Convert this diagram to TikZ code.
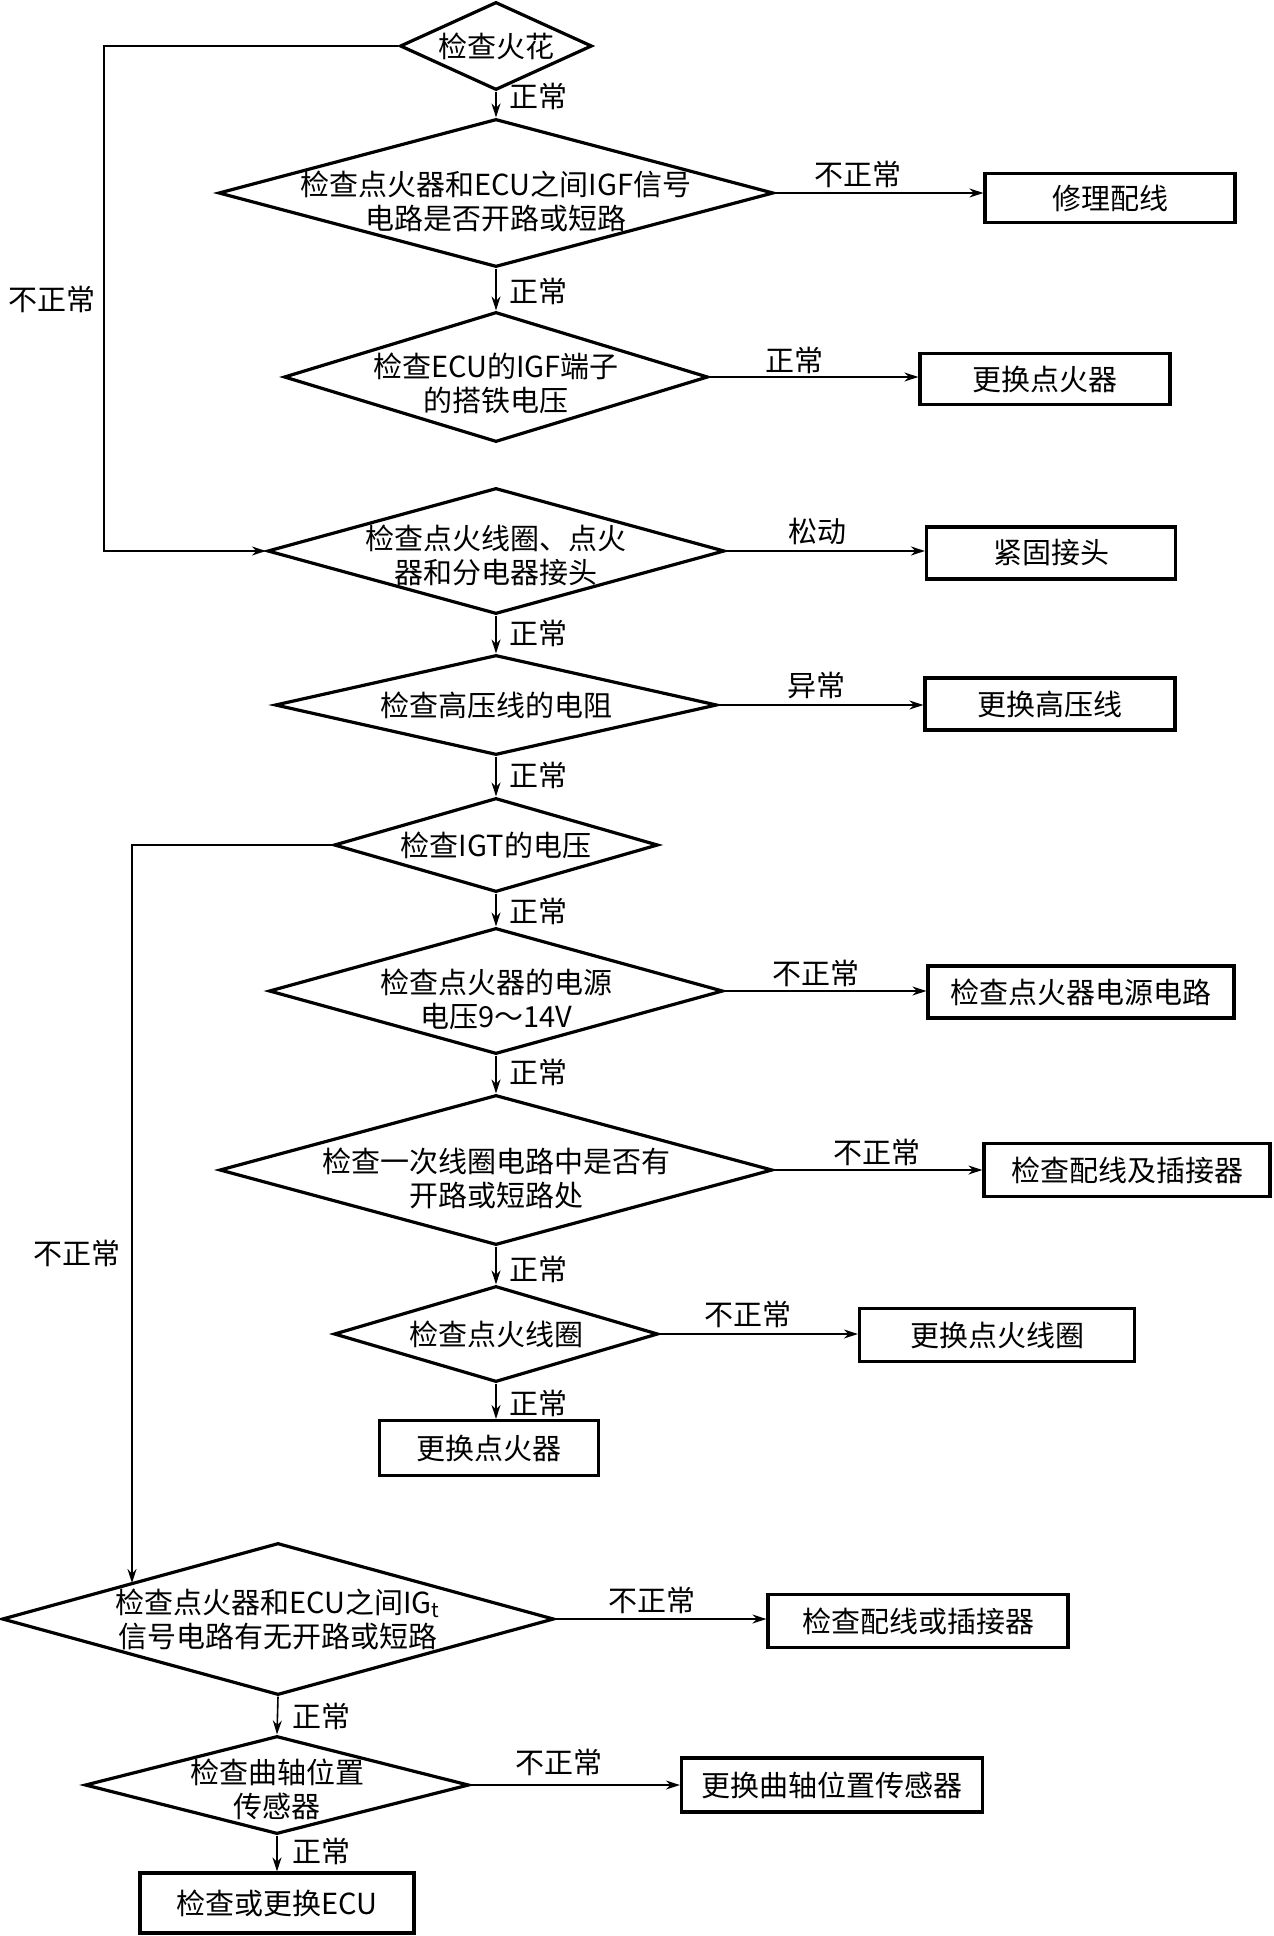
\documentclass[tikz,border=0pt]{standalone}
\usepackage{fontspec}
\newfontfamily\cjk{Noto Sans CJK SC}
\usetikzlibrary{shapes.geometric,arrows.meta}
\begin{document}
\begin{tikzpicture}[x=0.5pt,y=-0.5pt,
  every node/.style={font=\cjk\fontsize{14.5}{17}\selectfont},
  dia/.style={draw, shape=diamond, line width=1.6pt, inner sep=0pt, line join=miter},
  box/.style={draw, rectangle, line width=1.6pt, inner sep=0pt},
  txt/.style={align=center, inner sep=0pt},
  lbl/.style={inner sep=0pt},
  arr/.style={line width=0.8pt, -{Stealth[length=7pt,width=4.5pt]}}]
\useasboundingbox (0,0) rectangle (1273,1936);
% diamonds
\node[dia, minimum width=96pt, minimum height=44pt] (d1) at (496,46) {};
\node[txt] at (d1) {检查火花};
\node[dia, minimum width=277.5pt, minimum height=74pt] (d2) at (496,193) {};
\node[txt] at ([yshift=-4pt]d2.center) {检查点火器和ECU之间IGF信号\\电路是否开路或短路};
\node[dia, minimum width=212pt, minimum height=65pt] (d3) at (496,377) {};
\node[txt] at ([yshift=-3pt]d3.center) {检查ECU的IGF端子\\的搭铁电压};
\node[dia, minimum width=228.5pt, minimum height=63pt] (d4) at (496,551) {};
\node[txt] at ([yshift=-2pt]d4.center) {检查点火线圈、点火\\器和分电器接头};
\node[dia, minimum width=221pt, minimum height=50pt] (d5) at (496,705) {};
\node[txt] at (d5) {检查高压线的电阻};
\node[dia, minimum width=162pt, minimum height=47pt] (d6) at (496,845) {};
\node[txt] at (d6) {检查IGT的电压};
\node[dia, minimum width=227pt, minimum height=63pt] (d7) at (496,991) {};
\node[txt] at ([yshift=-4pt]d7.center) {检查点火器的电源\\电压9～14V};
\node[dia, minimum width=276.5pt, minimum height=75pt] (d8) at (496,1170) {};
\node[txt] at ([yshift=-4pt]d8.center) {检查一次线圈电路中是否有\\开路或短路处};
\node[dia, minimum width=162pt, minimum height=48pt] (d9) at (496,1334) {};
\node[txt] at (d9) {检查点火线圈};
\node[dia, minimum width=276pt, minimum height=76pt] (d11) at (278,1619) {};
\node[txt] at (d11) {检查点火器和ECU之间IG\textsubscript{t}\\信号电路有无开路或短路};
\node[dia, minimum width=192pt, minimum height=49pt] (d12) at (277,1785) {};
\node[txt] at ([yshift=-2pt]d12.center) {检查曲轴位置\\传感器};
% boxes
\node[box, minimum width=125pt, minimum height=24.5pt] (b2) at (1110,198) {修理配线};
\node[box, minimum width=125pt, minimum height=25.5pt] (b3) at (1045,379) {更换点火器};
\node[box, minimum width=124.5pt, minimum height=26pt] (b4) at (1051,553) {紧固接头};
\node[box, minimum width=125pt, minimum height=26pt] (b5) at (1050,704) {更换高压线};
\node[box, minimum width=153pt, minimum height=26pt] (b7) at (1081,992) {检查点火器电源电路};
\node[box, minimum width=143pt, minimum height=26.5pt] (b8) at (1127,1170) {检查配线及插接器};
\node[box, minimum width=137.5pt, minimum height=26.5pt] (b9) at (997,1335) {更换点火线圈};
\node[box, minimum width=109.5pt, minimum height=27.5pt] (b10) at (489,1448) {更换点火器};
\node[box, minimum width=150pt, minimum height=26.5pt] (b11) at (918,1621) {检查配线或插接器};
\node[box, minimum width=150.5pt, minimum height=27pt] (b12) at (832,1785) {更换曲轴位置传感器};
\node[box, minimum width=137pt, minimum height=30pt] (b13) at (277,1903) {检查或更换ECU};
% helper coordinates
\coordinate (l1x) at (104,0);
\coordinate (l2end) at (132,1583);
% connectors
\draw[arr] (d1.south) -- (d2.north);
\draw[arr] (d2.east) -- (d2.east -| b2.west);
\draw[arr] (d2.south) -- (d3.north);
\draw[arr] (d3.east) -- (d3.east -| b3.west);
\draw[arr] (d1.west) -- (d1.west -| l1x) |- (d4.west);
\draw[arr] (d4.east) -- (d4.east -| b4.west);
\draw[arr] (d4.south) -- (d5.north);
\draw[arr] (d5.east) -- (d5.east -| b5.west);
\draw[arr] (d5.south) -- (d6.north);
\draw[arr] (d6.west) -- (d6.west -| l2end) -- (l2end);
\draw[arr] (d6.south) -- (d7.north);
\draw[arr] (d7.east) -- (d7.east -| b7.west);
\draw[arr] (d7.south) -- (d8.north);
\draw[arr] (d8.east) -- (d8.east -| b8.west);
\draw[arr] (d8.south) -- (d9.north);
\draw[arr] (d9.east) -- (d9.east -| b9.west);
\draw[arr] (d9.south) -- (d9.south |- b10.north);
\draw[arr] (d11.east) -- (d11.east -| b11.west);
\draw[arr] (d11.south) -- (d12.north);
\draw[arr] (d12.east) -- (d12.east -| b12.west);
\draw[arr] (d12.south) -- (d12.south |- b13.north);
% labels
\node[lbl] (t1) at (538,96) {正常};
\node[lbl] (t2) at (858,174) {不正常};
\node[lbl] (t3) at (538,291) {正常};
\node[lbl] (t4) at (794,360) {正常};
\node[lbl] (t5) at (52,299) {不正常};
\node[lbl] (t6) at (817,531) {松动};
\node[lbl] (t7) at (538,633) {正常};
\node[lbl] (t8) at (816,686) {异常};
\node[lbl] (t9) at (538,775) {正常};
\node[lbl] (t10) at (538,911) {正常};
\node[lbl] (t11) at (816,973) {不正常};
\node[lbl] (t12) at (538,1072) {正常};
\node[lbl] (t13) at (877,1152) {不正常};
\node[lbl] (t14) at (538,1269) {正常};
\node[lbl] (t15) at (77,1253) {不正常};
\node[lbl] (t16) at (748,1314) {不正常};
\node[lbl] (t17) at (538,1403) {正常};
\node[lbl] (t18) at (652,1600) {不正常};
\node[lbl] (t19) at (321,1716) {正常};
\node[lbl] (t20) at (559,1762) {不正常};
\node[lbl] (t21) at (321,1851) {正常};
\end{tikzpicture}
\end{document}
